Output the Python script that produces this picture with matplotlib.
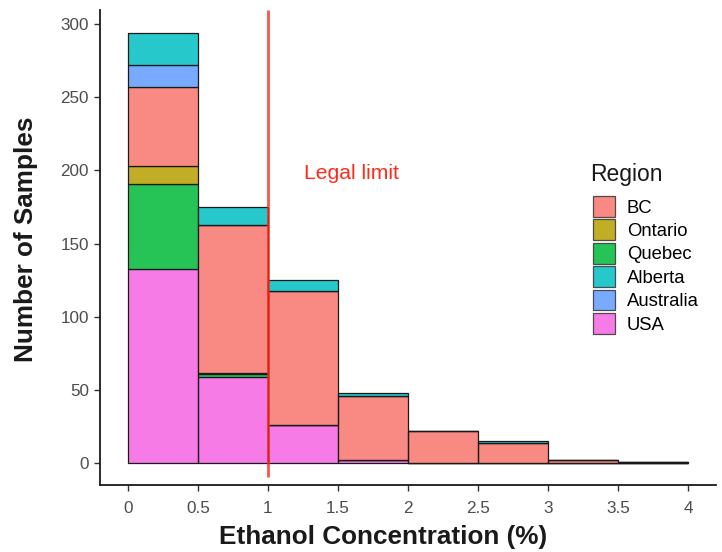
import matplotlib
matplotlib.use("Agg")
import matplotlib.pyplot as plt
from matplotlib.patches import Patch
import numpy as np

plt.rcParams['font.family'] = ['Liberation Sans', 'DejaVu Sans']

# ---- data ----
bin_edges = [0, 0.5, 1, 1.5, 2, 2.5, 3, 3.5, 4]
# counts per bin (stack order bottom -> top)
usa       = [133, 59, 26, 2, 0, 0, 0, 0]
quebec    = [58, 2, 0, 0, 0, 0, 0, 0]
ontario   = [12, 1, 0, 0, 0, 0, 0, 0]
bc        = [54, 101, 92, 44, 22, 14, 2, 1]
australia = [15, 0, 0, 0, 0, 0, 0, 0]
alberta   = [22, 12, 7, 2, 0, 1, 0, 0]

stack_order = ["USA", "Quebec", "Ontario", "BC", "Australia", "Alberta"]
stack_values = [usa, quebec, ontario, bc, australia, alberta]
legend_order = ["BC", "Ontario", "Quebec", "Alberta", "Australia", "USA"]
colors = {"BC": "#F8766D", "Ontario": "#B79F00", "Quebec": "#00BA38",
          "Alberta": "#00BFC4", "Australia": "#619CFF", "USA": "#F564E3"}

x_ticks = [0, 0.5, 1, 1.5, 2, 2.5, 3, 3.5, 4]
x_tick_labels = ["0", "0.5", "1", "1.5", "2", "2.5", "3", "3.5", "4"]
y_ticks = [0, 50, 100, 150, 200, 250, 300]
legal_limit = 1.0
legal_label = "Legal limit"

# ---- figure ----
W, H = 722, 552
fig = plt.figure(figsize=(W / 100, H / 100), dpi=100)
ax = fig.add_axes([100 / W, 1 - 485.3 / H, 616 / W, 475.3 / H])

lefts = np.array(bin_edges[:-1])
widths = np.diff(bin_edges)
bottom = np.zeros(len(lefts))
for name, vals in zip(stack_order, stack_values):
    vals = np.array(vals, dtype=float)
    ax.bar(lefts, vals, width=widths, bottom=bottom, align='edge',
           color=colors[name], alpha=0.85, linewidth=0)
    ax.bar(lefts, vals, width=widths, bottom=bottom, align='edge',
           fill=False, edgecolor='#1a1a1a', linewidth=0.9)
    bottom += vals

ax.set_xlim(-0.2, 4.2)
ax.set_ylim(-15.0, 309.6)

ax.vlines(legal_limit, -9.6, 309.6, color='#FF2A1A', linewidth=2, alpha=0.8, zorder=5)
ax.text(1.6, 198, legal_label, color='#FF2A1A', fontsize=15.2,
        ha='center', va='center')

ax.set_xticks(x_ticks)
ax.set_xticklabels(x_tick_labels)
ax.set_yticks(y_ticks)
ax.tick_params(axis='both', direction='out', length=4, width=1,
               color='#333333', labelcolor='#4D4D4D', labelsize=12.3)
ax.tick_params(axis='x', pad=7)
ax.tick_params(axis='y', pad=4)

for s in ['top', 'right']:
    ax.spines[s].set_visible(False)
for s in ['left', 'bottom']:
    ax.spines[s].set_linewidth(1.3)
    ax.spines[s].set_color('#1a1a1a')

ax.set_xlabel("Ethanol Concentration (%)", fontsize=18.8, fontweight='bold', color='#1a1a1a')
ax.set_ylabel("Number of Samples", fontsize=18.8, fontweight='bold', color='#1a1a1a')
ax.xaxis.set_label_coords(0.46, -0.084)
ax.yaxis.set_label_coords(-0.1, 0.518)

fig.text(590 / W, 1 - 175 / H, "Region", fontsize=16.5, color='#1a1a1a',
         ha='left', va='center')

handles = [Patch(facecolor=colors[n], alpha=0.85, edgecolor='#333333', linewidth=0.9)
           for n in legend_order]
leg = fig.legend(handles, legend_order, loc='upper left',
                 bbox_to_anchor=(593 / W, 1 - 196 / H), frameon=False,
                 fontsize=13.3,
                 handlelength=1.19, handleheight=1.37, labelspacing=0.13,
                 handletextpad=0.65, borderpad=0, borderaxespad=0)

fig.savefig("out.png", dpi=100)
